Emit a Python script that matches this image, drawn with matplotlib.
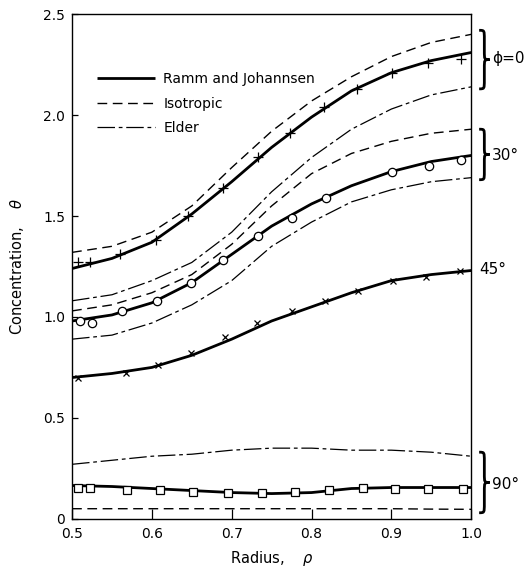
import matplotlib
matplotlib.use("Agg")
import matplotlib.pyplot as plt
from matplotlib.path import Path
from matplotlib.patches import PathPatch
import numpy as np

# radius grid used for the curves
rho = [0.50, 0.55, 0.60, 0.65, 0.70, 0.75, 0.80, 0.85, 0.90, 0.95, 1.00]

# phi = 0
ramm_0 = [1.24, 1.29, 1.37, 1.51, 1.67, 1.84, 1.99, 2.12, 2.21, 2.27, 2.31]
iso_0 = [1.32, 1.35, 1.42, 1.55, 1.74, 1.92, 2.07, 2.19, 2.29, 2.36, 2.40]
elder_0 = [1.08, 1.11, 1.18, 1.27, 1.42, 1.62, 1.79, 1.93, 2.03, 2.10, 2.14]
# phi = 30
ramm_30 = [0.98, 1.01, 1.07, 1.17, 1.31, 1.45, 1.56, 1.65, 1.72, 1.77, 1.80]
iso_30 = [1.03, 1.06, 1.12, 1.21, 1.36, 1.55, 1.71, 1.81, 1.87, 1.91, 1.93]
elder_30 = [0.89, 0.91, 0.97, 1.06, 1.18, 1.35, 1.47, 1.57, 1.63, 1.67, 1.69]
# phi = 45
ramm_45 = [0.70, 0.72, 0.75, 0.81, 0.89, 0.98, 1.05, 1.12, 1.18, 1.21, 1.23]
# phi = 90
ramm_90 = [0.165, 0.16, 0.15, 0.14, 0.13, 0.125, 0.13, 0.15, 0.155, 0.155, 0.155]
iso_90 = [0.05, 0.05, 0.05, 0.05, 0.05, 0.05, 0.05, 0.05, 0.05, 0.048, 0.047]
elder_90 = [0.27, 0.29, 0.31, 0.32, 0.34, 0.35, 0.35, 0.34, 0.34, 0.33, 0.31]

# measured points
pts0_x = [0.508, 0.523, 0.56, 0.605, 0.645, 0.689, 0.733, 0.773, 0.816, 0.857, 0.901, 0.946, 0.987]
pts0_y = [1.27, 1.27, 1.31, 1.38, 1.50, 1.64, 1.79, 1.91, 2.04, 2.13, 2.21, 2.26, 2.28]
pts30_x = [0.51, 0.525, 0.563, 0.606, 0.649, 0.689, 0.733, 0.776, 0.818, 0.901, 0.947, 0.987]
pts30_y = [0.98, 0.97, 1.03, 1.08, 1.17, 1.28, 1.40, 1.49, 1.59, 1.72, 1.75, 1.78]
pts45_x = [0.507, 0.568, 0.608, 0.649, 0.692, 0.732, 0.775, 0.817, 0.858, 0.902, 0.943, 0.986]
pts45_y = [0.70, 0.72, 0.76, 0.82, 0.90, 0.97, 1.03, 1.08, 1.13, 1.18, 1.20, 1.23]
pts90_x = [0.508, 0.523, 0.569, 0.61, 0.651, 0.695, 0.738, 0.779, 0.822, 0.864, 0.905, 0.946, 0.99]
pts90_y = [0.155, 0.152, 0.144, 0.144, 0.135, 0.127, 0.13, 0.135, 0.144, 0.155, 0.147, 0.147, 0.149]

# braces on the right: (label, bottom, top, label y)
group_labels = ["ϕ=0", "30°", "45°", "90°"]
brace_lo = [2.13, 1.68, None, 0.03]
brace_hi = [2.42, 1.93, None, 0.33]
label_y = [2.28, 1.80, 1.235, 0.17]

plt.rcParams['font.family'] = ['DejaVu Sans']
fig = plt.figure(figsize=(5.3, 5.67), dpi=100)
ax = fig.add_axes([0.136, 0.085, 0.753, 0.89])

solid = dict(color='black', lw=2.0, solid_capstyle='butt')
dashed = dict(color='black', lw=1.0, linestyle=(0, (7, 4)))
elder = dict(color='black', lw=0.9, linestyle=(0, (14, 3, 3, 3)))

ax.plot(rho, ramm_0, label='Ramm and Johannsen', **solid)
ax.plot(rho, iso_0, label='Isotropic', **dashed)
ax.plot(rho, elder_0, label='Elder', **elder)
ax.plot(rho, ramm_30, **solid)
ax.plot(rho, iso_30, **dashed)
ax.plot(rho, elder_30, **elder)
ax.plot(rho, ramm_45, **solid)
ax.plot(rho, ramm_90, **solid)
ax.plot(rho, iso_90, **dashed)
ax.plot(rho, elder_90, **elder)

ax.plot(pts0_x, pts0_y, '+', color='black', ms=6.5, mew=0.9, clip_on=False)
ax.plot(pts30_x, pts30_y, 'o', color='black', mfc='white', ms=6, mew=0.9, clip_on=False)
ax.plot(pts45_x, pts45_y, 'x', color='black', ms=5, mew=0.9, clip_on=False)
ax.plot(pts90_x, pts90_y, 's', color='black', mfc='white', ms=6, mew=0.9, clip_on=False)


def brace(ax, x0, y0, y1, w):
    ym = (y0 + y1) / 2.0
    r = 0.15 * (y1 - y0)
    xm = x0 + w / 2.0
    verts = [(x0, y1), (xm, y1), (xm, y1), (xm, y1 - r),
             (xm, ym + r), (xm, ym), (xm, ym), (x0 + w, ym),
             (xm, ym), (xm, ym), (xm, ym - r),
             (xm, y0 + r), (xm, y0), (xm, y0), (x0, y0)]
    codes = [Path.MOVETO, Path.CURVE4, Path.CURVE4, Path.CURVE4,
             Path.LINETO, Path.CURVE4, Path.CURVE4, Path.CURVE4,
             Path.CURVE4, Path.CURVE4, Path.CURVE4,
             Path.LINETO, Path.CURVE4, Path.CURVE4, Path.CURVE4]
    ax.add_patch(PathPatch(Path(verts, codes), fill=False, lw=2.0,
                           color='black', clip_on=False))


for lab, lo, hi, ly in zip(group_labels, brace_lo, brace_hi, label_y):
    if lo is not None:
        brace(ax, 1.010, lo, hi, 0.013)
        ax.text(1.026, ly, lab, fontsize=11, va='center', ha='left')
    else:
        ax.text(1.010, ly, lab, fontsize=11, va='center', ha='left')

ax.set_xlim(0.5, 1.0)
ax.set_ylim(0, 2.5)
ax.set_xticks([0.5, 0.6, 0.7, 0.8, 0.9, 1.0])
ax.set_yticks([0, 0.5, 1.0, 1.5, 2.0, 2.5])
ax.set_yticklabels(['0', '0.5', '1.0', '1.5', '2.0', '2.5'])
ax.tick_params(axis='x', direction='in', length=7, width=0.9, labelsize=10, pad=6)
ax.tick_params(axis='y', direction='in', length=4, width=0.9, labelsize=10, pad=5)
for s in ax.spines.values():
    s.set_linewidth(1.0)

ax.set_xlabel('Radius,    $\\rho$', fontsize=10.5, labelpad=6)
ax.set_ylabel('Concentration,    $\\theta$', fontsize=10.5, labelpad=12)

ax.legend(loc='upper left', bbox_to_anchor=(0.03, 0.91), frameon=False,
          handlelength=4.2, labelspacing=0.75, fontsize=10, handletextpad=0.6)

fig.savefig('out.png', dpi=100)
